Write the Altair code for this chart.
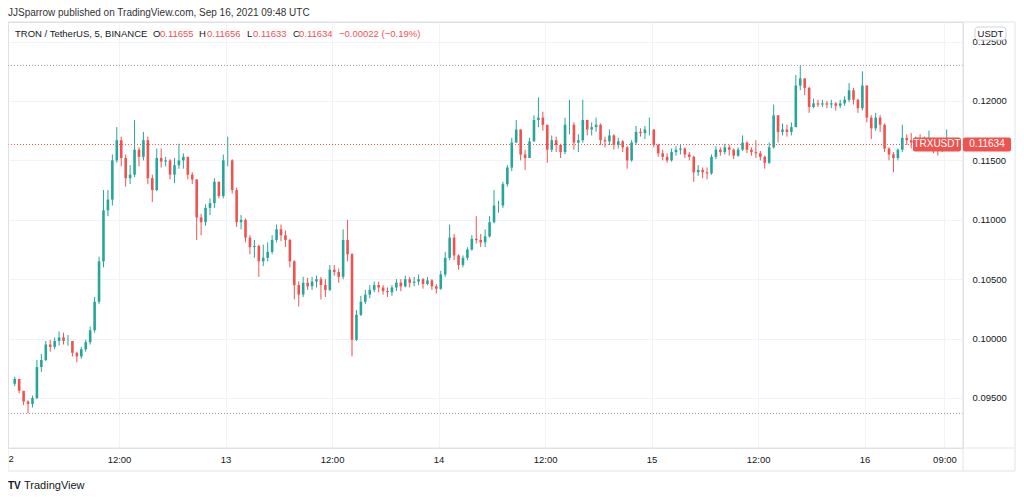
import altair as alt
import pandas as pd

# ---------------- data (30-minute candles) ----------------
closes = [
    0.0966, 0.0956, 0.0947, 0.0945, 0.0950, 0.0976, 0.0982, 0.0995, 0.0993, 0.0998,
    0.1001, 0.0998, 0.0998, 0.0988, 0.0985, 0.0991, 0.0997, 0.1007, 0.1031, 0.1065,
    0.1108, 0.1117, 0.1150, 0.1167, 0.1152, 0.1135, 0.1138, 0.1159, 0.1153, 0.1167,
    0.1135, 0.1125, 0.1152, 0.1149, 0.1150, 0.1138, 0.1146, 0.1150, 0.1153, 0.1138,
    0.1134, 0.1102, 0.1098, 0.1110, 0.1114, 0.1132, 0.1120, 0.1150, 0.1150, 0.1125,
    0.1098, 0.1100, 0.1085, 0.1077, 0.1078, 0.1065, 0.1068, 0.1073, 0.1083, 0.1092,
    0.1087, 0.1083, 0.1065, 0.1045, 0.1037, 0.1047, 0.1044, 0.1048, 0.1050, 0.1045,
    0.1041, 0.1058, 0.1056, 0.1052, 0.1083, 0.1071, 0.0999, 0.1020, 0.1031, 0.1037,
    0.1041, 0.1045, 0.1043, 0.1040, 0.1039, 0.1043, 0.1047, 0.1044, 0.1050, 0.1047,
    0.1048, 0.1050, 0.1046, 0.1049, 0.1044, 0.1042, 0.1054, 0.1068, 0.1085, 0.1070,
    0.1062, 0.1068, 0.1075, 0.1084, 0.1083, 0.1081, 0.1086, 0.1098, 0.1112, 0.1112,
    0.1130, 0.1144, 0.1165, 0.1176, 0.1155, 0.1152, 0.1166, 0.1184, 0.1186, 0.1180,
    0.1159, 0.1167, 0.1163, 0.1157, 0.1180, 0.1180, 0.1165, 0.1167, 0.1184, 0.1176,
    0.1178, 0.1180, 0.1167, 0.1166, 0.1171, 0.1163, 0.1166, 0.1161, 0.1150, 0.1165,
    0.1174, 0.1173, 0.1176, 0.1176, 0.1163, 0.1156, 0.1153, 0.1150, 0.1157, 0.1159,
    0.1160, 0.1155, 0.1153, 0.1140, 0.1142, 0.1140, 0.1139, 0.1153, 0.1159, 0.1157,
    0.1161, 0.1159, 0.1154, 0.1159, 0.1165, 0.1159, 0.1157, 0.1156, 0.1153, 0.1148,
    0.1161, 0.1188, 0.1174, 0.1176, 0.1174, 0.1178, 0.1213, 0.1219, 0.1211, 0.1195,
    0.1198, 0.1197, 0.1198, 0.1197, 0.1198, 0.1196, 0.1198, 0.1201, 0.1209, 0.1201,
    0.1194, 0.1213, 0.1186, 0.1177, 0.1186, 0.1180, 0.1160, 0.1155, 0.1152, 0.1159,
    0.1169, 0.1167, 0.1165, 0.1167, 0.1165, 0.1166, 0.1168, 0.1160, 0.1158, 0.1163,
    0.1166, 0.11634,
]
highs = [
    0.0968, 0.0966, 0.0955, 0.0948, 0.0952, 0.0982, 0.0987, 0.0998, 0.0999, 0.1001,
    0.1006, 0.1005, 0.1003, 0.0997, 0.0989, 0.0993, 0.0999, 0.1010, 0.1035, 0.1069,
    0.1125, 0.1125, 0.1155, 0.1178, 0.1170, 0.1155, 0.1146, 0.1184, 0.1161, 0.1174,
    0.1170, 0.1138, 0.1160, 0.1160, 0.1153, 0.1151, 0.1152, 0.1164, 0.1156, 0.1153,
    0.1140, 0.1134, 0.1105, 0.1113, 0.1118, 0.1135, 0.1132, 0.1155, 0.1170, 0.1151,
    0.1127, 0.1104, 0.1101, 0.1087, 0.1083, 0.1079, 0.1079, 0.1081, 0.1087, 0.1096,
    0.1096, 0.1091, 0.1084, 0.1066, 0.1048, 0.1052, 0.1051, 0.1052, 0.1053, 0.1052,
    0.1050, 0.1062, 0.1062, 0.1059, 0.1092, 0.1100, 0.1072, 0.1024, 0.1036, 0.1041,
    0.1045, 0.1048, 0.1048, 0.1045, 0.1043, 0.1045, 0.1050, 0.1050, 0.1053, 0.1052,
    0.1052, 0.1054, 0.1051, 0.1052, 0.1050, 0.1046, 0.1057, 0.1073, 0.1096, 0.1088,
    0.1071, 0.1070, 0.1077, 0.1087, 0.1103, 0.1088, 0.1092, 0.1103, 0.1125, 0.1116,
    0.1132, 0.1146, 0.1169, 0.1184, 0.1170, 0.1159, 0.1169, 0.1188, 0.1203, 0.1191,
    0.1180, 0.1171, 0.1170, 0.1164, 0.1186, 0.1201, 0.1182, 0.1172, 0.1201, 0.1182,
    0.1182, 0.1186, 0.1181, 0.1170, 0.1176, 0.1172, 0.1169, 0.1167, 0.1162, 0.1167,
    0.1179, 0.1177, 0.1179, 0.1186, 0.1176, 0.1164, 0.1159, 0.1156, 0.1160, 0.1162,
    0.1163, 0.1161, 0.1157, 0.1154, 0.1146, 0.1144, 0.1144, 0.1155, 0.1162, 0.1161,
    0.1164, 0.1163, 0.1160, 0.1161, 0.1171, 0.1166, 0.1161, 0.1167, 0.1158, 0.1154,
    0.1165, 0.1197, 0.1185, 0.1181, 0.1180, 0.1182, 0.1222, 0.1230, 0.1216, 0.1212,
    0.1202, 0.1201, 0.1201, 0.1200, 0.1201, 0.1199, 0.1201, 0.1204, 0.1215, 0.1211,
    0.1202, 0.1225, 0.1211, 0.1188, 0.1190, 0.1188, 0.1181, 0.1161, 0.1157, 0.1160,
    0.1180, 0.1172, 0.1173, 0.1170, 0.1172, 0.1170, 0.1175, 0.1169, 0.1162, 0.1166,
    0.1176, 0.1167,
]
lows = [
    0.0960, 0.0954, 0.0944, 0.0937, 0.0942, 0.0949, 0.0972, 0.0981, 0.0989, 0.0991,
    0.0994, 0.0995, 0.0994, 0.0985, 0.0980, 0.0983, 0.0989, 0.0995, 0.1005, 0.1029,
    0.1060, 0.1103, 0.1112, 0.1148, 0.1145, 0.1128, 0.1130, 0.1136, 0.1145, 0.1150,
    0.1130, 0.1115, 0.1124, 0.1144, 0.1145, 0.1134, 0.1131, 0.1143, 0.1143, 0.1134,
    0.1130, 0.1083, 0.1087, 0.1095, 0.1104, 0.1110, 0.1118, 0.1118, 0.1145, 0.1122,
    0.1094, 0.1092, 0.1081, 0.1071, 0.1068, 0.1052, 0.1061, 0.1065, 0.1071, 0.1081,
    0.1082, 0.1077, 0.1060, 0.1033, 0.1027, 0.1035, 0.1041, 0.1041, 0.1043, 0.1033,
    0.1035, 0.1040, 0.1053, 0.1047, 0.1050, 0.1065, 0.0985, 0.0998, 0.1019, 0.1029,
    0.1034, 0.1039, 0.1039, 0.1037, 0.1035, 0.1036, 0.1040, 0.1040, 0.1043, 0.1043,
    0.1044, 0.1045, 0.1042, 0.1045, 0.1041, 0.1038, 0.1041, 0.1052, 0.1066, 0.1066,
    0.1058, 0.1060, 0.1066, 0.1074, 0.1080, 0.1077, 0.1077, 0.1085, 0.1097, 0.1106,
    0.1110, 0.1128, 0.1141, 0.1165, 0.1150, 0.1142, 0.1152, 0.1166, 0.1178, 0.1175,
    0.1148, 0.1157, 0.1157, 0.1152, 0.1155, 0.1172, 0.1159, 0.1157, 0.1165, 0.1171,
    0.1171, 0.1174, 0.1163, 0.1161, 0.1163, 0.1159, 0.1160, 0.1157, 0.1143, 0.1149,
    0.1163, 0.1170, 0.1168, 0.1171, 0.1161, 0.1153, 0.1150, 0.1148, 0.1149, 0.1154,
    0.1155, 0.1152, 0.1150, 0.1132, 0.1137, 0.1135, 0.1134, 0.1138, 0.1151, 0.1154,
    0.1155, 0.1154, 0.1151, 0.1153, 0.1158, 0.1156, 0.1154, 0.1152, 0.1150, 0.1143,
    0.1147, 0.1160, 0.1165, 0.1171, 0.1170, 0.1171, 0.1178, 0.1209, 0.1205, 0.1190,
    0.1194, 0.1195, 0.1195, 0.1194, 0.1194, 0.1192, 0.1194, 0.1196, 0.1199, 0.1197,
    0.1190, 0.1192, 0.1182, 0.1168, 0.1175, 0.1174, 0.1157, 0.1150, 0.1140, 0.1150,
    0.1157, 0.1163, 0.1160, 0.1162, 0.1161, 0.1162, 0.1163, 0.1156, 0.1154, 0.1157,
    0.1162, 0.1162,
]
first_open = 0.0962
start_time = "2021-09-12 00:15"
bar_minutes = 30

header_text = "JJSparrow published on TradingView.com, Sep 16, 2021 09:48 UTC"
symbol_text = "TRON / TetherUS, 5, BINANCE"
ohlc_letters = ["O", "H", "L", "C"]
ohlc_values = ["0.11655", "0.11656", "0.11633", "0.11634"]
change_text = "\u22120.00022 (\u22120.19%)"
ticker_text = "TRXUSDT"
currency_text = "USDT"
clipped_day_label = "2"   # the "12" day label, cut by the left frame
price_ticks = [0.095, 0.100, 0.105, 0.110, 0.115, 0.120, 0.125]
time_ticks = ["2021-09-12 12:00", "2021-09-13 00:00",
              "2021-09-13 12:00", "2021-09-14 00:00", "2021-09-14 12:00",
              "2021-09-15 00:00", "2021-09-15 12:00", "2021-09-16 00:00",
              "2021-09-16 09:00"]
x_domain = ["2021-09-12 00:03:20", "2021-09-16 10:31:20"]
y_domain = [0.09079, 0.12665]

# ---------------- styling ----------------
UP = "#26a69a"
DOWN = "#ef5350"
GRID = "#f0f3fa"
FRAME = "#e0e3eb"
TEXT = "#131722"
FONT = "Liberation Sans"
W, H = 955, 426


def ms(s):
    return int(pd.Timestamp(s, tz="UTC").timestamp() * 1000)


n = min(len(closes), len(highs), len(lows))
t0 = pd.Timestamp(start_time, tz="UTC")
opens = [first_open] + closes[: n - 1]
rows = []
for i in range(n):
    o, c = opens[i], closes[i]
    rows.append({
        "t": int((t0 + pd.Timedelta(minutes=bar_minutes * i)).timestamp() * 1000),
        "o": o, "c": c,
        "h": max(highs[i], o, c), "l": min(lows[i], o, c),
        "dir": "up" if c >= o else "down",
    })
df = pd.DataFrame(rows)
last = df.tail(1)

xs = alt.Scale(type="utc", domain=[ms(x_domain[0]), ms(x_domain[1])], nice=False)
ys = alt.Scale(domain=y_domain, nice=False, zero=False)
cs = alt.Scale(domain=["up", "down"], range=[UP, DOWN])

x_axis = alt.Axis(
    values=[ms(v) for v in time_ticks], grid=True, gridColor=GRID, domain=False,
    ticks=False, labelPadding=6, labelFontSize=9.5, labelColor=TEXT, labelFont=FONT,
    labelOverlap=False, labelFlush=False, labelBound=False, title=None,
    labelExpr="utchours(datum.value) == 0 ? utcFormat(datum.value, '%-d') : utcFormat(datum.value, '%H:%M')",
)
y_axis = alt.Axis(
    orient="right", values=price_ticks, format=".5f", grid=True, gridColor=GRID,
    domain=False, ticks=False, labelPadding=9, labelAlign="left", labelFontSize=9.5,
    labelColor=TEXT, labelFont=FONT, title=None,
)

base = alt.Chart(df)

wicks = base.mark_rule(strokeWidth=1, clip=True).encode(
    x=alt.X("t:T", scale=xs, axis=x_axis, title=None),
    y=alt.Y("l:Q", scale=ys, axis=y_axis, title=None),
    y2="h:Q",
    color=alt.Color("dir:N", scale=cs, legend=None),
)
bodies = base.mark_bar(size=2.6, clip=True).encode(
    x=alt.X("t:T", scale=xs, title=None),
    y=alt.Y("o:Q", scale=ys, title=None),
    y2="c:Q",
    color=alt.Color("dir:N", scale=cs, legend=None),
)

hi_line = base.mark_rule(color="#9598a1", strokeDash=[1, 2], strokeWidth=1).encode(
    y=alt.Y("max(h):Q", scale=ys, title=None))
lo_line = base.mark_rule(color="#9598a1", strokeDash=[1, 2], strokeWidth=1).encode(
    y=alt.Y("min(l):Q", scale=ys, title=None))

lb = alt.Chart(last)
price_line = lb.mark_rule(color=DOWN, strokeDash=[1, 2], strokeWidth=1).encode(
    y=alt.Y("c:Q", scale=ys, title=None))
price_box = lb.mark_rect(color=DOWN, yOffset=-7, y2Offset=7, cornerRadius=2).encode(
    x=alt.value(955), x2=alt.value(1003),
    y=alt.Y("c:Q", scale=ys, title=None), y2="c:Q")
price_txt = lb.mark_text(color="white", fontSize=10, font=FONT, baseline="middle").encode(
    x=alt.value(979), y=alt.Y("c:Q", scale=ys, title=None),
    text=alt.Text("c:Q", format=".5f"))
tick_box = lb.mark_rect(color=DOWN, yOffset=-7, y2Offset=7, cornerRadius=2).encode(
    x=alt.value(905), x2=alt.value(953),
    y=alt.Y("c:Q", scale=ys, title=None), y2="c:Q")
tick_txt = lb.mark_text(color="white", fontSize=10, font=FONT, baseline="middle").encode(
    x=alt.value(929), y=alt.Y("c:Q", scale=ys, title=None),
    text=alt.value(ticker_text))

# frame lines (pixel positions of the chart furniture)
frame_df = pd.DataFrame({
    "x": [0, 0, 1007, 0, 955, 0],
    "x2": [1007, 0, 1007, 1007, 955, 1007],
    "y": [0, 0, 0, 449, 0, H],
    "y2": [0, 449, 449, 449, 449, H],
})
frame = alt.Chart(frame_df).mark_rule(color=FRAME, strokeWidth=1).encode(
    x=alt.X("x:Q", scale=None), x2="x2:Q",
    y=alt.Y("y:Q", scale=None), y2="y2:Q")

one = alt.Chart(pd.DataFrame({"k": [0]}))
usdt_box = one.mark_rect(fill="white", stroke="#d1d4dc", strokeWidth=1, cornerRadius=3).encode(
    x=alt.value(967), x2=alt.value(998), y=alt.value(5), y2=alt.value(18))
usdt_txt = one.mark_text(fontSize=9.5, font=FONT, color=TEXT, baseline="middle").encode(
    x=alt.value(982.5), y=alt.value(11.5), text=alt.value(currency_text))

day_label = one.mark_text(fontSize=9.5, font=FONT, color=TEXT, align="left",
                          baseline="top").encode(
    x=alt.value(0.5), y=alt.value(H + 6), text=alt.value(clipped_day_label))

header = one.mark_text(fontSize=10, font=FONT, color="#333333", align="left",
                       baseline="middle").encode(
    x=alt.value(0), y=alt.value(-9.5), text=alt.value(header_text))

leg_rows = [{"x": 7, "text": symbol_text, "col": TEXT}]
leg_x = [(145, 152), (191, 199), (239, 245), (285, 291)]
for (lx, vx), letter, val in zip(leg_x, ohlc_letters, ohlc_values):
    leg_rows.append({"x": lx, "text": letter, "col": TEXT})
    leg_rows.append({"x": vx, "text": val, "col": DOWN})
leg_rows.append({"x": 331, "text": change_text, "col": DOWN})
legend = alt.Chart(pd.DataFrame(leg_rows)).mark_text(
    fontSize=9.5, font=FONT, align="left", baseline="middle").encode(
    x=alt.X("x:Q", scale=None), y=alt.value(12.3), text="text:N",
    color=alt.Color("col:N", scale=None))

logo_mark = one.mark_text(fontSize=10, font=FONT, fontWeight="bold", color=TEXT,
                          align="left", baseline="middle").encode(
    x=alt.value(0), y=alt.value(464), text=alt.value("TV"))
logo_txt = one.mark_text(fontSize=11, font=FONT, color=TEXT, align="left",
                         baseline="middle").encode(
    x=alt.value(16), y=alt.value(464), text=alt.value("TradingView"))

chart = alt.layer(
    hi_line, lo_line, wicks, bodies, price_line, frame,
    tick_box, tick_txt, price_box, price_txt, usdt_box, usdt_txt, day_label,
    header, legend, logo_mark, logo_txt,
).properties(
    width=W, height=H,
    autosize=alt.AutoSizeParams(type="none"),
    padding={"left": 0, "top": 14, "right": 53, "bottom": 44},
).configure_view(stroke=None).configure(background="white")

chart.save("out.html", embed_options={"renderer": "svg", "actions": False})
